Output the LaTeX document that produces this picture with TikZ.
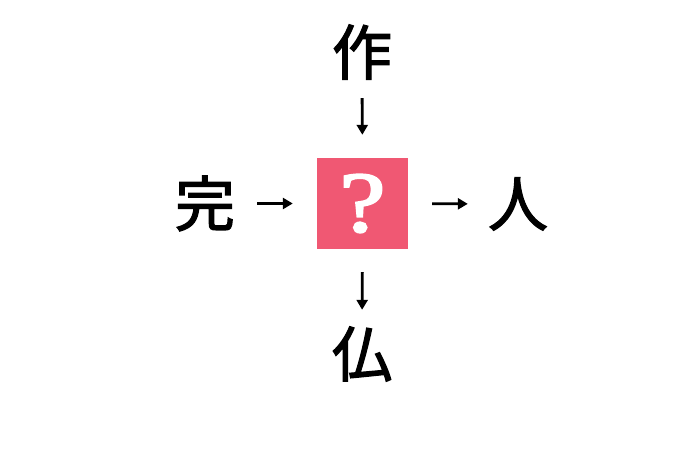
\documentclass[tikz,border=0pt]{standalone}
\usepackage{fontspec}
\newfontfamily\cjk[FakeBold=2]{Noto Sans CJK JP}
\newfontfamily\qfont[FakeBold=2.5]{Liberation Serif}
\usetikzlibrary{arrows.meta}
\definecolor{qpink}{RGB}{240,88,115}
\tikzset{
  kanji/.style={font=\cjk\fontsize{60}{60}\selectfont, inner sep=0pt, minimum width=60pt, minimum height=60pt, text=black},
  qbox/.style={fill=qpink, minimum width=91pt, minimum height=91pt, inner sep=0pt, text=white, font=\qfont\fontsize{86}{86}\selectfont},
  conn/.style={line width=2.8pt, -{Triangle[length=10pt,width=11pt]}}
}
\begin{document}
\begin{tikzpicture}[x=1pt,y=-1pt]
\useasboundingbox (0,0) rectangle (680,453);
\node[qbox] (q) at (362.5,203.5) {\scalebox{1.2}[1]{?}};
\node[kanji] (top) at (362,52) {作};
\node[kanji] (left) at (205,203.5) {完};
\node[kanji] (right) at (518,204) {人};
\node[kanji] (bottom) at (362,354) {仏};
\draw[conn, shorten <=22pt, shorten >=24pt] (left.east) -- (q.west);
\draw[conn, shorten <=24pt, shorten >=20pt] (q.east) -- (right.west);
\draw[conn, shorten <=16pt, shorten >=23pt] (top.south) -- (q.north);
\draw[conn, shorten <=23pt, shorten >=14pt] (q.south) -- (bottom.north);
\end{tikzpicture}
\end{document}
